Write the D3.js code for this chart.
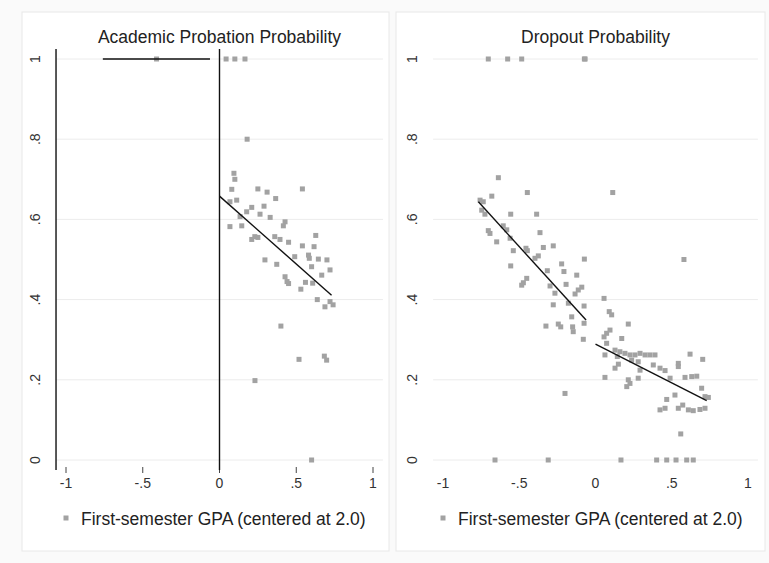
<!DOCTYPE html>
<html>
<head>
<meta charset="utf-8">
<script src="https://cdn.jsdelivr.net/npm/d3@7"></script>
<style>
  body { margin: 0; background: #fafafa; }
  svg { display: block; font-family: "Liberation Sans", Arial, sans-serif; }
</style>
</head>
<body>
<svg width="769" height="563"></svg>
<script>
// tick labels
const xTicks = [-1, -0.5, 0, 0.5, 1];
const xTickLabels = ["-1", "-.5", "0", ".5", "1"];
const yTicks = [0, 0.2, 0.4, 0.6, 0.8, 1];
const yTickLabels = ["0", ".2", ".4", ".6", ".8", "1"];
const legendLabel = "First-semester GPA (centered at 2.0)";

// binned means, Academic probation
const probationPoints = [
  [-0.41, 1],
  [0.043, 1], [0.10, 1], [0.166, 1], [0.18, 0.80],
  [0.094, 0.715], [0.10, 0.70], [0.08, 0.675], [0.25, 0.676], [0.31, 0.668],
  [0.366, 0.652], [0.54, 0.676], [0.068, 0.644], [0.112, 0.648], [0.29, 0.633],
  [0.21, 0.63], [0.177, 0.619], [0.264, 0.613], [0.33, 0.605], [0.134, 0.607],
  [0.068, 0.582], [0.145, 0.584], [0.427, 0.594], [0.416, 0.584], [0.23, 0.557],
  [0.21, 0.55], [0.25, 0.555], [0.36, 0.557], [0.394, 0.55], [0.45, 0.543],
  [0.627, 0.56], [0.54, 0.534], [0.616, 0.532], [0.296, 0.499], [0.373, 0.488],
  [0.49, 0.507], [0.58, 0.511], [0.585, 0.503], [0.644, 0.501], [0.70, 0.499],
  [0.60, 0.482], [0.72, 0.474], [0.666, 0.461], [0.427, 0.457], [0.45, 0.44],
  [0.44, 0.445], [0.56, 0.443], [0.607, 0.441], [0.53, 0.426], [0.637, 0.40],
  [0.72, 0.395], [0.74, 0.387], [0.687, 0.382], [0.40, 0.334], [0.518, 0.251],
  [0.683, 0.259], [0.698, 0.249], [0.231, 0.198], [0.60, 0]
];
// fitted lines, Academic probation
const probationFits = [
  [[-1.065, 1.025], [-1.065, -0.025]],
  [[-0.76, 1], [-0.062, 1]],
  [[0, 1.025], [0, -0.025]],
  [[0, 0.658], [0.73, 0.411]]
];

// binned means, Dropout
const dropoutPoints = [
  [-0.703, 1], [-0.576, 1], [-0.484, 1], [-0.073, 1], [-0.068, 1],
  [-0.637, 0.704], [-0.68, 0.658], [-0.447, 0.667], [-0.757, 0.648], [-0.736, 0.644],
  [-0.746, 0.623], [-0.725, 0.613], [-0.556, 0.613], [-0.386, 0.613], [-0.605, 0.584],
  [-0.582, 0.574], [-0.703, 0.572], [-0.692, 0.565], [-0.364, 0.567], [-0.648, 0.544],
  [-0.56, 0.553], [-0.277, 0.534], [-0.342, 0.53], [-0.539, 0.522], [-0.456, 0.528],
  [-0.447, 0.522], [-0.375, 0.509], [-0.397, 0.503], [-0.073, 0.501], [-0.556, 0.484],
  [-0.316, 0.472], [-0.222, 0.489], [-0.207, 0.47], [-0.123, 0.461], [-0.451, 0.453],
  [-0.473, 0.442], [-0.484, 0.436], [-0.298, 0.434], [-0.266, 0.416], [-0.193, 0.438],
  [-0.09, 0.431], [-0.113, 0.424], [-0.134, 0.414], [-0.178, 0.391], [-0.277, 0.387],
  [-0.075, 0.384], [-0.156, 0.357], [-0.075, 0.341], [-0.325, 0.334], [-0.244, 0.339],
  [-0.228, 0.332], [-0.15, 0.332], [-0.146, 0.32], [-0.08, 0.301], [-0.2, 0.166],
  [0.113, 0.667], [0.58, 0.50], [0.056, 0.403], [0.09, 0.37], [0.106, 0.362],
  [0.215, 0.339], [0.095, 0.324], [0.073, 0.316], [0.056, 0.307], [0.172, 0.303],
  [0.073, 0.291], [0.062, 0.262], [0.128, 0.274], [0.16, 0.27], [0.143, 0.258],
  [0.193, 0.266], [0.226, 0.262], [0.259, 0.262], [0.292, 0.266], [0.325, 0.262],
  [0.357, 0.262], [0.39, 0.262], [0.15, 0.239], [0.128, 0.229], [0.237, 0.249],
  [0.28, 0.245], [0.379, 0.237], [0.423, 0.229], [0.456, 0.223], [0.543, 0.241],
  [0.543, 0.233], [0.62, 0.264], [0.703, 0.251], [0.292, 0.224], [0.28, 0.204],
  [0.215, 0.20], [0.226, 0.191], [0.205, 0.183], [0.062, 0.206], [0.489, 0.204],
  [0.587, 0.206], [0.631, 0.208], [0.664, 0.209], [0.696, 0.179], [0.718, 0.158],
  [0.74, 0.156], [0.521, 0.162], [0.467, 0.151], [0.456, 0.129], [0.423, 0.125],
  [0.543, 0.129], [0.572, 0.137], [0.609, 0.125], [0.641, 0.123], [0.685, 0.126],
  [0.718, 0.129], [0.559, 0.065],
  [-0.659, 0], [-0.31, 0], [0.167, 0], [0.401, 0], [0.467, 0], [0.528, 0], [0.598, 0], [0.641, 0]
];
// fitted lines, Dropout
const dropoutFits = [
  [[-0.768, 0.644], [-0.062, 0.349]],
  [[0, 0.289], [0.729, 0.148]]
];

const svg = d3.select("svg");

const panels = [
  { title: "Academic Probation Probability", box: [22, 12, 367, 539], range: [66, 373],
    points: probationPoints, fits: probationFits, ticks: true, yLabelX: 40 },
  { title: "Dropout Probability", box: [396, 12, 369, 539], range: [443, 748],
    points: dropoutPoints, fits: dropoutFits, ticks: false, yLabelX: 417 }
];

panels.forEach(p => {
  const g = svg.append("g");
  const x = d3.scaleLinear().domain([-1, 1]).range(p.range);
  const y = d3.scaleLinear().domain([0, 1]).range([460, 59]);

  g.append("rect")
    .attr("x", p.box[0]).attr("y", p.box[1])
    .attr("width", p.box[2]).attr("height", p.box[3])
    .attr("fill", "#fff").attr("stroke", "#e8e8e8");

  g.append("text")
    .attr("x", x(0)).attr("y", 43)
    .attr("text-anchor", "middle")
    .attr("font-size", 17.5).attr("fill", "#222")
    .text(p.title);

  // grid
  g.append("g").selectAll("line")
    .data(yTicks).enter()
    .append("line")
    .attr("x1", x(-1.065)).attr("x2", x(1.065))
    .attr("y1", d => y(d)).attr("y2", d => y(d))
    .attr("stroke", "#ececec").attr("stroke-width", 1);

  // y labels, rotated
  g.append("g").selectAll("text")
    .data(yTicks).enter()
    .append("text")
    .attr("transform", d => `translate(${p.yLabelX},${y(d)}) rotate(-90)`)
    .attr("text-anchor", "middle")
    .attr("font-size", 14).attr("fill", "#333")
    .text((d, i) => yTickLabels[i]);

  // x labels
  g.append("g").selectAll("text")
    .data(xTicks).enter()
    .append("text")
    .attr("x", d => x(d)).attr("y", 488)
    .attr("text-anchor", "middle")
    .attr("font-size", 14).attr("fill", "#333")
    .text((d, i) => xTickLabels[i]);

  if (p.ticks) {
    g.append("g").selectAll("line")
      .data(xTicks).enter()
      .append("line")
      .attr("x1", d => x(d)).attr("x2", d => x(d))
      .attr("y1", 467).attr("y2", 473)
      .attr("stroke", "#444").attr("stroke-width", 1);
  }

  // markers
  g.append("g").selectAll("rect")
    .data(p.points).enter()
    .append("rect")
    .attr("x", d => x(d[0]) - 2.5).attr("y", d => y(d[1]) - 2.5)
    .attr("width", 5).attr("height", 5)
    .attr("fill", "#a2a2a2");

  // fits
  const line = d3.line().x(d => x(d[0])).y(d => y(d[1]));
  g.append("g").selectAll("path")
    .data(p.fits).enter()
    .append("path")
    .attr("d", line)
    .attr("fill", "none").attr("stroke", "#111").attr("stroke-width", 1.4);

  // legend
  g.append("rect")
    .attr("x", x(-1) - 2.5).attr("y", 515.5)
    .attr("width", 5).attr("height", 5)
    .attr("fill", "#a2a2a2");
  g.append("text")
    .attr("x", x(-1) + 15).attr("y", 525)
    .attr("font-size", 17.5).attr("fill", "#222")
    .text(legendLabel);
});
</script>
</body>
</html>
